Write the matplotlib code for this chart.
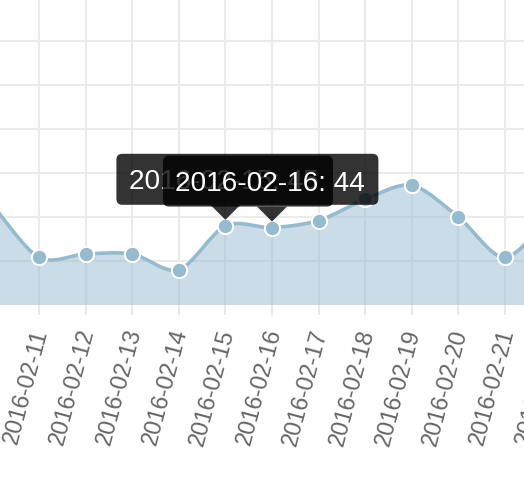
import matplotlib
matplotlib.use('Agg')
import matplotlib.pyplot as plt
from matplotlib.path import Path
from matplotlib.patches import PathPatch, FancyBboxPatch, Polygon
from matplotlib.transforms import IdentityTransform, ScaledTranslation
import numpy as np

plt.rcParams['font.family'] = ['Liberation Sans', 'DejaVu Sans']

# data
dates = ['2016-02-10', '2016-02-11', '2016-02-12', '2016-02-13', '2016-02-14',
         '2016-02-15', '2016-02-16', '2016-02-17', '2016-02-18', '2016-02-19',
         '2016-02-20', '2016-02-21', '2016-02-22']
values = [57, 27, 29, 29, 20, 45, 44, 48, 60, 68, 50, 27, 52]
tooltip_idx = [5, 6]   # back tooltip, front tooltip

LINE = '#95bbd0'
GRID = '#ebebeb'


def cardinal(xs, ys, a=0.15):
    # bezier path like d3 "cardinal" interpolation
    pts = np.column_stack([xs, ys]).astype(float)
    ext = np.vstack([pts[0], pts, pts[-1]])
    verts = [pts[0]]
    codes = [Path.MOVETO]
    for i in range(len(pts) - 1):
        p0, p1, p2, p3 = ext[i], ext[i+1], ext[i+2], ext[i+3]
        verts += [p1 + a*(p2 - p0), p2 - a*(p3 - p1), p2]
        codes += [Path.CURVE4]*3
    return verts, codes


fig = plt.figure(figsize=(5.24, 5.0), dpi=100)
# the chart is a crop of a wider one: the axes run past both figure edges
ax = fig.add_axes([-60/524, 0.39, 644/524, 0.61])
x = np.arange(len(dates))
xlim = (1 - 99/46.6, 1 + 545/46.6)

ax.set_yticks(np.arange(25, 175, 25))
ax.set_xticks(x)
ax.set_xticklabels(dates)
ax.set_xlim(*xlim)
ax.set_ylim(0, 305/1.76)
ax.grid(color=GRID, lw=1.5)
ax.set_axisbelow(True)
for s in ax.spines.values():
    s.set_visible(False)
ax.tick_params(axis='y', length=0, labelleft=False)
ax.tick_params(axis='x', length=7.2, width=1.2, color='#e3e3e3', pad=10.5,
               labelsize=16.8, labelcolor='#666666')
for lbl in ax.get_xticklabels():
    lbl.set_rotation(75)
    lbl.set_ha('right')
    lbl.set_va('center')
    lbl.set_rotation_mode('anchor')
    lbl.set_transform(lbl.get_transform() + ScaledTranslation(0.02, 0, fig.dpi_scale_trans))

verts, codes = cardinal(x, values)
fill_verts = verts + [(x[-1], 0), (x[0], 0), (x[0], 0)]
fill_codes = codes + [Path.LINETO, Path.LINETO, Path.CLOSEPOLY]
ax.add_patch(PathPatch(Path(fill_verts, fill_codes), facecolor=LINE, alpha=0.5,
                       edgecolor='none', zorder=2))
ax.add_patch(PathPatch(Path(verts, codes), facecolor='none', edgecolor=LINE,
                       lw=2.6, zorder=3))
ax.plot(x, values, 'o', ms=11, color=LINE, mec='white', mew=1.4, zorder=4)
ax.set_xlim(*xlim)

# tooltips (two, overlapping)
widths = [262, 170]
fig.canvas.draw()
for k, i in enumerate(tooltip_idx):
    px, py = ax.transData.transform((x[i], values[i]))
    left = px - 109
    bot = py + 21
    z = 10 + 2*k
    box = FancyBboxPatch((left, bot), widths[k], 51,
                         boxstyle='round,pad=0,rounding_size=6',
                         transform=IdentityTransform(), facecolor='black',
                         edgecolor='none', alpha=0.8, zorder=z)
    tri = Polygon([(px - 15, bot), (px + 15, bot), (px, py + 6)], closed=True,
                  transform=IdentityTransform(), facecolor='black',
                  edgecolor='none', alpha=0.8, zorder=z)
    fig.add_artist(box)
    fig.add_artist(tri)
    fig.text(left + 12.5, py + 37, '%s: %d' % (dates[i], values[i]),
             transform=IdentityTransform(), color='white', fontsize=20.2,
             ha='left', va='baseline', zorder=z + 1)

fig.savefig('out.png', dpi=100)
